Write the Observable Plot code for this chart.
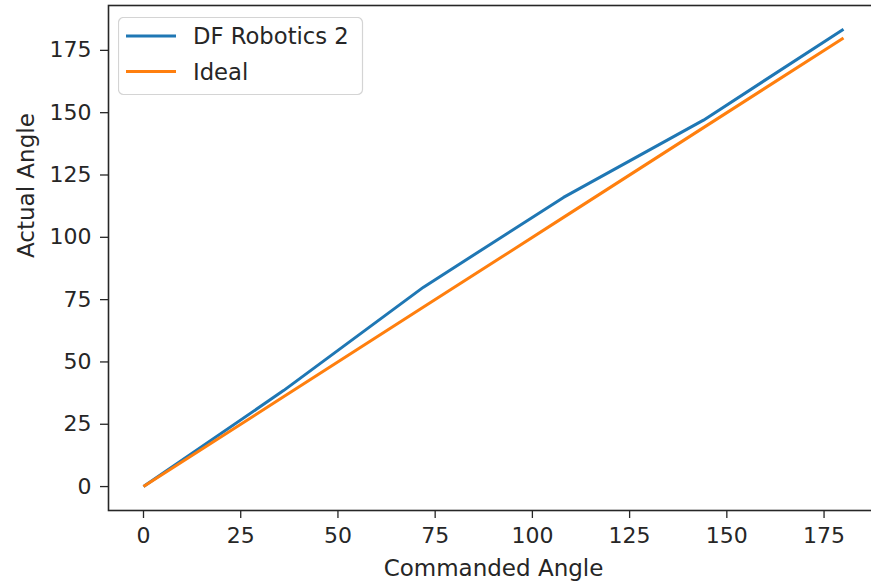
<!DOCTYPE html>
<html>
<head>
<meta charset="utf-8">
<script src="https://cdn.jsdelivr.net/npm/d3@7"></script>
<script src="https://cdn.jsdelivr.net/npm/@observablehq/plot@0.6"></script>
<style>
  html, body { margin: 0; padding: 0; background: #fff; overflow: hidden; }
  #wrap { position: relative; width: 871px; height: 584px; overflow: hidden; }
  #legend { position: absolute; left: 118px; top: 17px; }
</style>
</head>
<body>
<div id="wrap"></div>
<script>
// ---- data ----
const commanded = [0, 36, 72, 108, 144, 180];
const dfRobotics2 = [0, 38.5, 80, 116, 147, 183.5];
const ideal = [0, 36, 72, 108, 144, 180];
const seriesNames = ["DF Robotics 2", "Ideal"];
const seriesColors = ["#1f77b4", "#ff7f0e"];
const xTicks = [0, 25, 50, 75, 100, 125, 150, 175];
const yTicks = [0, 25, 50, 75, 100, 125, 150, 175];
const xLabel = "Commanded Angle";
const yLabel = "Actual Angle";

const rows = [];
commanded.forEach((c, i) => rows.push({cmd: c, act: dfRobotics2[i], series: seriesNames[0]}));
commanded.forEach((c, i) => rows.push({cmd: c, act: ideal[i], series: seriesNames[1]}));

const ink = "#262626";
const chart = Plot.plot({
  width: 871,
  height: 584,
  marginLeft: 108,
  marginRight: -7,
  marginTop: 5,
  marginBottom: 74,
  style: {fontFamily: "DejaVu Sans", fontSize: "22px", color: ink, background: "white", overflow: "visible"},
  x: {domain: [-9, 189], ticks: xTicks, label: null},
  y: {domain: [-9.6, 193], ticks: yTicks, label: null},
  color: {domain: seriesNames, range: seriesColors},
  marks: [
    Plot.axisX({ticks: xTicks, tickSize: 8, tickPadding: 9, label: null, stroke: ink, strokeWidth: 1.3}),
    Plot.axisY({ticks: yTicks, tickSize: 8, tickPadding: 9, label: null, stroke: ink, strokeWidth: 1.3}),
    Plot.line(rows, {x: "cmd", y: "act", z: "series", stroke: "series", strokeWidth: 3, strokeLinejoin: "round", strokeLinecap: "butt"}),
    Plot.frame({stroke: ink, strokeWidth: 1.6}),
    Plot.text([xLabel], {frameAnchor: "bottom", dy: 58.5, lineAnchor: "middle", fill: ink, fontSize: 23}),
    Plot.text([yLabel], {frameAnchor: "left", dx: -82, rotate: -90, lineAnchor: "middle", fill: ink, fontSize: 23})
  ]
});
document.getElementById("wrap").appendChild(chart);

// ---- legend ----
const lg = d3.select("#wrap").append("svg")
  .attr("id", "legend").attr("width", 246).attr("height", 79);
lg.append("rect").attr("x", 0.5).attr("y", 0.5).attr("width", 244).attr("height", 77)
  .attr("rx", 5).attr("fill", "rgba(255,255,255,0.8)").attr("stroke", "#d4d4d4").attr("stroke-width", 1.2);
seriesNames.forEach((name, i) => {
  const cy = 19 + i * 35.5;
  lg.append("line").attr("x1", 8).attr("x2", 58).attr("y1", cy).attr("y2", cy)
    .attr("stroke", seriesColors[i]).attr("stroke-width", 3);
  lg.append("text").attr("x", 75).attr("y", cy).attr("dy", "0.36em")
    .attr("font-family", "DejaVu Sans").attr("font-size", 22.7).attr("fill", ink).text(name);
});
</script>
</body>
</html>
